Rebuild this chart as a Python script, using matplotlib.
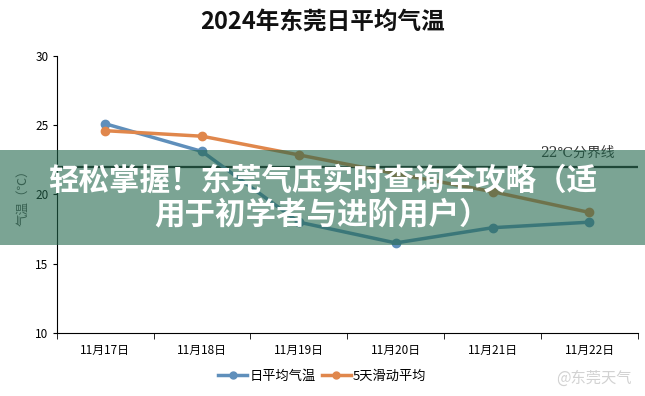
import matplotlib
matplotlib.use("Agg")
import matplotlib.pyplot as plt
from matplotlib.patches import Rectangle
from matplotlib.lines import Line2D

plt.rcParams['font.family'] = ['Noto Sans CJK SC', 'DejaVu Sans']

dates = ["11月17日", "11月18日", "11月19日", "11月20日", "11月21日", "11月22日"]
daily_avg = [25.1, 23.1, 18.0, 16.5, 17.6, 18.0]
moving_avg = [24.6, 24.2, 22.85, 21.5, 20.2, 18.7]
threshold = 22

title = "2024年东莞日平均气温"
overlay = ["轻松掌握！东莞气压实时查询全攻略（适", "用于初学者与进阶用户）"]

blue = "#5f8fbb"
orange = "#e0874c"

fig = plt.figure(figsize=(6.45, 3.96), dpi=100)
ax = fig.add_axes([0.088, 0.159, 0.901, 0.70])

x = list(range(len(dates)))
ax.axhline(threshold, color="#1a1a1a", lw=1.6, zorder=1)
ax.text(4.88, 23.0, "22℃分界线", ha="center", va="center", fontsize=10,
        color="#333333", family=["DejaVu Serif", "Noto Sans CJK SC"])
ax.plot(x, daily_avg, color=blue, lw=2.5, marker="o", ms=6, zorder=3)
ax.plot(x, moving_avg, color=orange, lw=2.5, marker="o", ms=6, zorder=3)

ax.set_xlim(-0.5, len(dates) - 0.5)
ax.set_ylim(10, 30)
ax.set_yticks([10, 15, 20, 25, 30])
ax.set_xticks(x)
ax.set_xticklabels(dates, fontsize=8.5)
ax.set_xticks([i - 0.5 for i in range(len(dates) + 1)], minor=True)
ax.tick_params(axis="x", which="major", length=0, pad=8)
ax.tick_params(axis="x", which="minor", length=4, direction="out")
ax.tick_params(axis="y", labelsize=8.5, length=3, pad=3)
for s in ["top", "right"]:
    ax.spines[s].set_visible(False)
ax.set_ylabel("气温（℃）", fontsize=9, color="#555555", labelpad=4)

fig.text(0.5, 0.945, title, ha="center", va="center", fontsize=17,
         fontweight="bold", color="#111111")

handles = [Line2D([0], [0], color=blue, lw=2.5, marker="o", ms=5),
           Line2D([0], [0], color=orange, lw=2.5, marker="o", ms=5)]
fig.legend(handles, ["日平均气温", "5天滑动平均"], loc="center",
           bbox_to_anchor=(0.5, 0.05), ncol=2, frameon=False, fontsize=9.5,
           handlelength=2.2, handletextpad=0.2, columnspacing=0.4)

fig.text(0.92, 0.045, "@东莞天气", ha="center", va="center", fontsize=11,
         color="#d2d2d2")

band = Rectangle((0, 0.381), 1, 0.24, transform=fig.transFigure,
                 facecolor="#23674d", alpha=0.6, edgecolor="none", zorder=5)
fig.patches.append(band)
fig.text(0.5, 0.545, overlay[0], ha="center", va="center", fontsize=22,
         fontweight="heavy", color="white", zorder=6)
fig.text(0.5, 0.457, overlay[1], ha="center", va="center", fontsize=22,
         fontweight="heavy", color="white", zorder=6)

fig.savefig("out.png", dpi=100)
